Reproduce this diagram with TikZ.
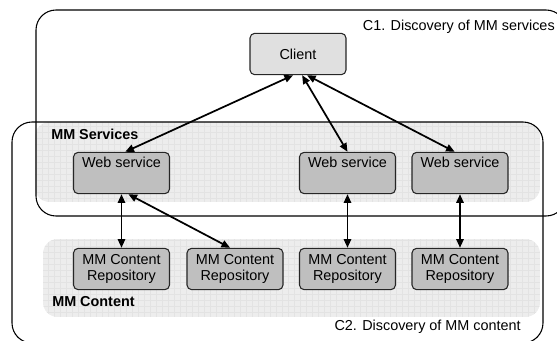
\documentclass[tikz,border=0pt]{standalone}
\usepackage{fontspec}
\setmainfont{Liberation Sans}
\usetikzlibrary{arrows.meta}
\def\fs{\fontsize{10.8}{12}\selectfont}

\begin{document}
\begin{tikzpicture}[x=0.75pt,y=-0.75pt,
    mmbox/.style={draw=black!85,line width=0.8pt,rounded corners=3.5pt,minimum width=72pt,
      minimum height=31pt,inner sep=0pt,align=center,font=\fs},
    lbl/.style={inner sep=0pt,font=\fs},
    link/.style={{Triangle[length=6.5pt,width=5.5pt]}-{Triangle[length=6.5pt,width=5.5pt]},line width=1.3pt},
    tint/.style={fill=black!7},
    gridline/.style={draw=black!11,line width=0.3pt}]
  \useasboundingbox (0,0) rectangle (557,340);
  % grey groups
  \begin{scope}
    \clip[rounded corners=11pt] (35,122) rectangle (540,202);
    \fill[tint] (35,122) rectangle (540,202);
    \draw[gridline,step=4.5pt] (35,122) grid (540,202);
  \end{scope}
  \begin{scope}
    \clip[rounded corners=11pt] (43,239) rectangle (540,317);
    \fill[tint] (43,239) rectangle (540,317);
    \draw[gridline,step=4.5pt] (43,239) grid (540,317);
  \end{scope}
  % C1 and C2
  \draw[line width=0.8pt,rounded corners=15pt] (36,10) rectangle (566,216);
  \draw[line width=0.8pt,rounded corners=15pt] (12,122) rectangle (543,343);
  \node[lbl,anchor=east] (c1lbl) at (555,27) {C1. Discovery of MM services};
  \node[lbl,anchor=east] (c2lbl) at (521,327) {C2. Discovery of MM content};
  \node[lbl,anchor=west,font=\fs\bfseries] (svclbl) at (51,134) {MM Services};
  \node[lbl,anchor=west,font=\fs\bfseries] (cntlbl) at (52,302) {MM Content};
  % boxes
  \node[mmbox,fill=black!12] (client) at (298,54) {Client};
  \node[mmbox,fill=black!25] (ws1) at (121.5,173) {Web service\\\strut};
  \node[mmbox,fill=black!25] (ws2) at (347.5,173) {Web service\\\strut};
  \node[mmbox,fill=black!25] (ws3) at (460,173) {Web service\\\strut};
  \node[mmbox,fill=black!25] (repo1) at (121.5,269) {MM Content\\Repository};
  \node[mmbox,fill=black!25] (repo2) at (235,269) {MM Content\\Repository};
  \node[mmbox,fill=black!25] (repo3) at (347.5,269) {MM Content\\Repository};
  \node[mmbox,fill=black!25] (repo4) at (460,269) {MM Content\\Repository};
  % arrows
  \draw[link] (client.-103) -- (ws1.80);
  \draw[link] (client.-79) -- (ws2.north);
  \draw[link] (client.-67) -- (ws3.104);
  \draw[link] (ws1.south) -- (repo1.north);
  \draw[link] (ws1.-72) -- (repo2.103);
  \draw[link] (ws2.south) -- (repo3.north);
  \draw[link] (ws3.south) -- (repo4.north);
\end{tikzpicture}
\end{document}
